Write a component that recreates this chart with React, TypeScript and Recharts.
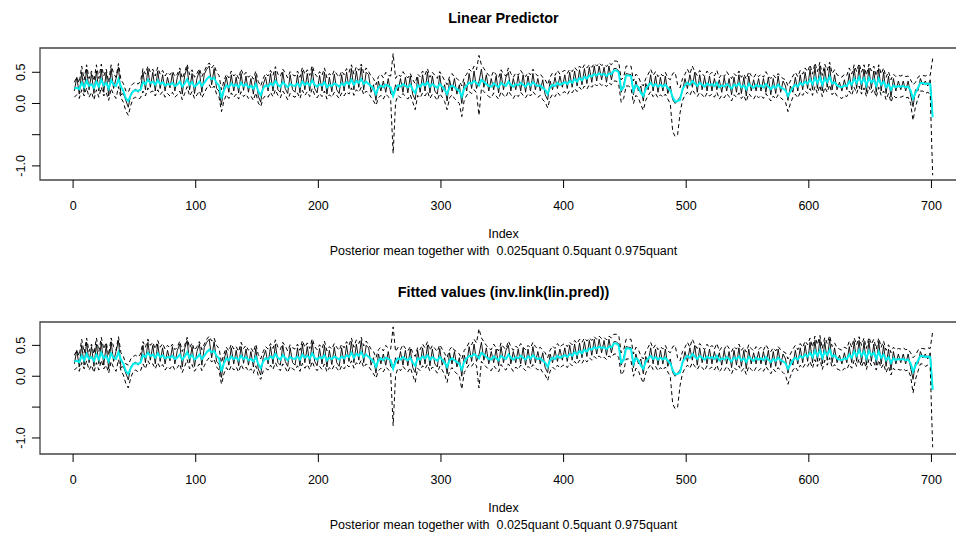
import { LineChart, Line, XAxis, YAxis, ReferenceArea } from 'recharts';

// posterior summaries, one value every 2nd index (1, 3, 5, ... 701)
const STEP = 2;

const meanLP = [
  0.20, 0.42, 0.15, 0.50, 0.18, 0.55, 0.22, 0.48, 0.16, 0.52,
  0.20, 0.55, 0.18, 0.50, 0.12, 0.56, 0.24, 0.40, 0.58, 0.14,
  0.16, 0.05, -0.06, 0.15, 0.20, 0.23, 0.18, 0.24, 0.50, 0.22,
  0.55, 0.26, 0.50, 0.20, 0.52, 0.24, 0.46, 0.20, 0.42, 0.25,
  0.48, 0.20, 0.42, 0.52, 0.15, 0.45, 0.58, 0.22, 0.48, 0.16,
  0.40, 0.52, 0.18, 0.47, 0.55, 0.60, 0.30, 0.56, 0.24, 0.20,
  -0.02, 0.26, 0.42, 0.18, 0.46, 0.20, 0.42, 0.17, 0.48, 0.21,
  0.44, 0.18, 0.40, 0.15, 0.45, 0.12, 0.02, 0.30, 0.42, 0.20,
  0.48, 0.20, 0.52, 0.22, 0.18, 0.50, 0.24, 0.16, 0.46, 0.22,
  0.18, 0.46, 0.17, 0.52, 0.22, 0.48, 0.20, 0.55, 0.24, 0.17,
  0.45, 0.20, 0.50, 0.15, 0.42, 0.19, 0.47, 0.22, 0.16, 0.46,
  0.20, 0.50, 0.24, 0.56, 0.22, 0.52, 0.26, 0.58, 0.22, 0.50,
  0.46, 0.18, 0.30, 0.05, 0.36, 0.20, 0.36, 0.18, 0.40, 0.16,
  0.12, 0.30, 0.20, 0.40, 0.18, 0.42, 0.17, 0.44, 0.14, 0.06,
  0.42, 0.18, 0.46, 0.20, 0.50, 0.17, 0.44, 0.20, 0.15, 0.45,
  0.18, 0.30, 0.04, 0.38, 0.20, 0.40, 0.15, 0.30, 0.00, 0.34,
  0.20, 0.48, 0.24, 0.52, 0.24, 0.35, 0.55, 0.26, 0.46, 0.20,
  0.40, 0.22, 0.44, 0.17, 0.48, 0.22, 0.42, 0.50, 0.20, 0.40,
  0.22, 0.44, 0.20, 0.46, 0.18, 0.44, 0.20, 0.48, 0.22, 0.40,
  0.20, 0.38, 0.14, 0.06, 0.36, 0.22, 0.42, 0.24, 0.44, 0.26,
  0.46, 0.24, 0.50, 0.26, 0.52, 0.28, 0.54, 0.30, 0.56, 0.32,
  0.58, 0.34, 0.60, 0.36, 0.60, 0.38, 0.58, 0.34, 0.60, 0.38,
  0.56, 0.56, 0.52, 0.18, 0.30, 0.48, 0.47, 0.46, 0.14, 0.36,
  0.20, 0.28, 0.04, 0.32, 0.22, 0.46, 0.20, 0.44, 0.18, 0.42,
  0.20, 0.44, 0.16, 0.28, 0.06, 0.00, 0.05, 0.10, 0.20, 0.40,
  0.24, 0.46, 0.26, 0.50, 0.18, 0.46, 0.22, 0.42, 0.20, 0.44,
  0.20, 0.40, 0.22, 0.38, 0.18, 0.42, 0.20, 0.40, 0.14, 0.42,
  0.18, 0.46, 0.16, 0.42, 0.12, 0.44, 0.20, 0.38, 0.20, 0.40,
  0.20, 0.40, 0.18, 0.42, 0.14, 0.40, 0.16, 0.44, 0.18, 0.36,
  0.28, 0.05, 0.28, 0.18, 0.42, 0.20, 0.46, 0.22, 0.50, 0.24,
  0.55, 0.22, 0.58, 0.24, 0.60, 0.20, 0.56, 0.26, 0.60, 0.22,
  0.46, 0.22, 0.34, 0.20, 0.38, 0.22, 0.48, 0.22, 0.56, 0.24,
  0.58, 0.22, 0.55, 0.18, 0.57, 0.24, 0.52, 0.18, 0.56, 0.20,
  0.50, 0.16, 0.44, 0.10, 0.40, 0.20, 0.36, 0.22, 0.36, 0.20,
  0.36, 0.14, -0.05, 0.22, 0.20, 0.40, 0.30, 0.36, 0.28, 0.38,
  -0.20,
];

const medianLP = [
  0.24, 0.25, 0.23, 0.33, 0.26, 0.36, 0.28, 0.31, 0.25, 0.35,
  0.27, 0.38, 0.29, 0.33, 0.24, 0.37, 0.30, 0.28, 0.39, 0.27,
  0.20, 0.08, 0.04, 0.13, 0.20, 0.21, 0.20, 0.22, 0.34, 0.31,
  0.38, 0.33, 0.35, 0.30, 0.37, 0.31, 0.34, 0.29, 0.31, 0.30,
  0.33, 0.28, 0.30, 0.35, 0.27, 0.32, 0.39, 0.30, 0.34, 0.27,
  0.30, 0.35, 0.28, 0.33, 0.39, 0.43, 0.39, 0.41, 0.33, 0.29,
  0.08, 0.21, 0.29, 0.26, 0.32, 0.28, 0.30, 0.26, 0.33, 0.28,
  0.31, 0.26, 0.28, 0.24, 0.31, 0.20, 0.13, 0.24, 0.29, 0.27,
  0.32, 0.29, 0.36, 0.30, 0.27, 0.34, 0.30, 0.26, 0.31, 0.29,
  0.28, 0.32, 0.27, 0.35, 0.30, 0.33, 0.29, 0.37, 0.30, 0.27,
  0.31, 0.29, 0.34, 0.26, 0.30, 0.28, 0.32, 0.30, 0.27, 0.32,
  0.29, 0.34, 0.31, 0.38, 0.30, 0.36, 0.33, 0.39, 0.31, 0.35,
  0.31, 0.28, 0.24, 0.15, 0.26, 0.29, 0.26, 0.30, 0.28, 0.26,
  0.12, 0.23, 0.29, 0.27, 0.31, 0.28, 0.26, 0.30, 0.22, 0.17,
  0.29, 0.27, 0.32, 0.29, 0.34, 0.27, 0.31, 0.28, 0.25, 0.31,
  0.27, 0.22, 0.15, 0.26, 0.29, 0.26, 0.23, 0.20, 0.11, 0.24,
  0.29, 0.33, 0.32, 0.36, 0.33, 0.29, 0.38, 0.35, 0.31, 0.28,
  0.27, 0.32, 0.29, 0.26, 0.33, 0.30, 0.28, 0.35, 0.30, 0.27,
  0.31, 0.29, 0.33, 0.30, 0.27, 0.32, 0.29, 0.34, 0.30, 0.28,
  0.29, 0.25, 0.22, 0.15, 0.26, 0.30, 0.28, 0.33, 0.30, 0.32,
  0.34, 0.31, 0.36, 0.33, 0.39, 0.35, 0.41, 0.37, 0.43, 0.40,
  0.45, 0.43, 0.47, 0.45, 0.48, 0.46, 0.47, 0.44, 0.48, 0.47,
  0.53, 0.53, 0.50, 0.22, 0.26, 0.45, 0.45, 0.44, 0.20, 0.29,
  0.26, 0.17, 0.12, 0.23, 0.29, 0.33, 0.28, 0.31, 0.27, 0.30,
  0.27, 0.30, 0.25, 0.21, 0.10, 0.03, 0.04, 0.06, 0.23, 0.29,
  0.33, 0.30, 0.36, 0.32, 0.28, 0.33, 0.30, 0.27, 0.32, 0.29,
  0.31, 0.28, 0.33, 0.26, 0.29, 0.27, 0.31, 0.28, 0.24, 0.30,
  0.28, 0.32, 0.26, 0.29, 0.23, 0.31, 0.28, 0.25, 0.30, 0.27,
  0.29, 0.26, 0.31, 0.27, 0.23, 0.28, 0.25, 0.30, 0.26, 0.24,
  0.21, 0.12, 0.19, 0.26, 0.30, 0.27, 0.33, 0.30, 0.35, 0.32,
  0.38, 0.31, 0.41, 0.33, 0.42, 0.30, 0.40, 0.34, 0.43, 0.32,
  0.34, 0.29, 0.27, 0.26, 0.29, 0.28, 0.35, 0.30, 0.40, 0.33,
  0.42, 0.33, 0.40, 0.29, 0.41, 0.34, 0.38, 0.28, 0.40, 0.30,
  0.35, 0.26, 0.31, 0.22, 0.29, 0.26, 0.28, 0.27, 0.28, 0.26,
  0.27, 0.21, 0.08, 0.17, 0.25, 0.33, 0.33, 0.31, 0.32, 0.31,
  -0.22,
];

const lowerLP = [
  0.10, 0.14, 0.08, 0.22, 0.12, 0.25, 0.10, 0.18, 0.06, 0.22,
  0.10, 0.26, 0.12, 0.18, 0.05, 0.24, 0.14, 0.08, 0.27, 0.09,
  0.02, -0.12, -0.19, -0.03, 0.08, 0.10, 0.07, 0.09, 0.20, 0.12,
  0.25, 0.18, 0.20, 0.12, 0.22, 0.14, 0.19, 0.10, 0.16, 0.12,
  0.18, 0.10, 0.14, 0.20, 0.06, 0.16, 0.27, 0.12, 0.19, 0.08,
  0.14, 0.20, 0.09, 0.17, 0.25, 0.30, 0.23, 0.28, 0.15, 0.10,
  -0.13, 0.04, 0.14, 0.08, 0.17, 0.10, 0.15, 0.07, 0.19, 0.11,
  0.15, 0.08, 0.12, 0.05, 0.17, 0.01, -0.05, 0.08, 0.13, 0.10,
  0.18, 0.11, 0.22, 0.13, 0.09, 0.20, 0.14, 0.06, 0.16, 0.12,
  0.10, 0.17, 0.08, 0.21, 0.13, 0.19, 0.11, 0.24, 0.14, 0.09,
  0.16, 0.11, 0.20, 0.07, 0.14, 0.10, 0.18, 0.13, 0.08, 0.17,
  0.12, 0.19, 0.15, 0.25, 0.13, 0.22, 0.18, 0.26, 0.14, 0.20,
  0.16, 0.10, 0.04, -0.03, 0.09, 0.13, 0.07, 0.15, 0.11, 0.05,
  -0.80, 0.02, 0.13, 0.09, 0.16, 0.11, 0.07, 0.14, 0.02, -0.10,
  0.13, 0.09, 0.17, 0.12, 0.19, 0.08, 0.15, 0.11, 0.05, 0.16,
  0.10, 0.03, -0.10, 0.09, 0.14, 0.08, 0.04, 0.00, -0.21, 0.06,
  0.13, 0.19, 0.16, 0.22, 0.17, -0.19, 0.24, 0.19, 0.15, 0.11,
  0.09, 0.17, 0.12, 0.07, 0.19, 0.13, 0.10, 0.20, 0.14, 0.08,
  0.15, 0.11, 0.18, 0.13, 0.09, 0.16, 0.12, 0.19, 0.14, 0.10,
  0.13, 0.06, 0.02, -0.07, 0.08, 0.15, 0.11, 0.18, 0.13, 0.17,
  0.19, 0.14, 0.21, 0.17, 0.24, 0.19, 0.26, 0.21, 0.28, 0.23,
  0.30, 0.26, 0.32, 0.28, 0.33, 0.29, 0.31, 0.27, 0.33, 0.30,
  0.36, 0.36, 0.30, 0.02, 0.08, 0.28, 0.28, 0.25, 0.00, 0.13,
  0.09, -0.02, -0.11, 0.05, 0.13, 0.19, 0.11, 0.16, 0.09, 0.14,
  0.10, 0.15, 0.07, 0.00, -0.45, -0.53, -0.50, -0.15, 0.05, 0.13,
  0.18, 0.13, 0.22, 0.16, 0.11, 0.18, 0.14, 0.09, 0.17, 0.12,
  0.15, 0.10, 0.18, 0.07, 0.13, 0.09, 0.16, 0.11, 0.04, 0.14,
  0.10, 0.17, 0.08, 0.13, 0.03, 0.16, 0.11, 0.07, 0.14, 0.09,
  0.13, 0.08, 0.16, 0.10, 0.04, 0.12, 0.07, 0.14, 0.09, 0.06,
  0.02, -0.13, 0.00, 0.10, 0.15, 0.09, 0.18, 0.13, 0.20, 0.16,
  0.24, 0.13, 0.27, 0.16, 0.29, 0.11, 0.26, 0.18, 0.30, 0.14,
  0.19, 0.12, 0.10, 0.08, 0.13, 0.11, 0.20, 0.13, 0.26, 0.16,
  0.28, 0.15, 0.25, 0.11, 0.27, 0.17, 0.23, 0.10, 0.26, 0.13,
  0.20, 0.06, 0.16, 0.02, 0.13, 0.09, 0.11, 0.10, 0.12, 0.09,
  0.10, 0.00, -0.27, -0.05, 0.08, 0.20, 0.20, 0.16, 0.18, 0.15,
  -1.15,
];

const upperLP = [
  0.34, 0.42, 0.33, 0.60, 0.38, 0.62, 0.40, 0.52, 0.36, 0.62,
  0.40, 0.63, 0.44, 0.55, 0.34, 0.62, 0.48, 0.42, 0.64, 0.38,
  0.32, 0.20, 0.18, 0.28, 0.32, 0.34, 0.31, 0.36, 0.56, 0.47,
  0.60, 0.50, 0.55, 0.44, 0.58, 0.47, 0.53, 0.44, 0.50, 0.46,
  0.52, 0.43, 0.47, 0.57, 0.40, 0.50, 0.63, 0.46, 0.54, 0.42,
  0.48, 0.56, 0.43, 0.52, 0.60, 0.65, 0.57, 0.62, 0.50, 0.45,
  0.22, 0.36, 0.47, 0.41, 0.52, 0.44, 0.48, 0.40, 0.55, 0.45,
  0.50, 0.42, 0.46, 0.39, 0.52, 0.35, 0.28, 0.40, 0.48, 0.44,
  0.53, 0.45, 0.59, 0.47, 0.43, 0.55, 0.49, 0.41, 0.51, 0.46,
  0.44, 0.52, 0.42, 0.58, 0.47, 0.54, 0.45, 0.61, 0.48, 0.43,
  0.51, 0.45, 0.57, 0.41, 0.48, 0.44, 0.53, 0.47, 0.42, 0.52,
  0.46, 0.56, 0.50, 0.62, 0.47, 0.59, 0.53, 0.63, 0.49, 0.57,
  0.51, 0.44, 0.40, 0.30, 0.43, 0.47, 0.41, 0.50, 0.45, 0.44,
  0.80, 0.40, 0.47, 0.43, 0.51, 0.45, 0.41, 0.48, 0.38, 0.32,
  0.47, 0.43, 0.52, 0.46, 0.56, 0.42, 0.50, 0.45, 0.40, 0.51,
  0.44, 0.37, 0.30, 0.43, 0.48, 0.42, 0.40, 0.36, 0.28, 0.42,
  0.47, 0.55, 0.51, 0.60, 0.54, 0.77, 0.62, 0.56, 0.50, 0.45,
  0.43, 0.52, 0.46, 0.41, 0.54, 0.47, 0.44, 0.57, 0.48, 0.42,
  0.49, 0.45, 0.53, 0.47, 0.43, 0.50, 0.46, 0.55, 0.48, 0.44,
  0.47, 0.42, 0.38, 0.30, 0.42, 0.49, 0.45, 0.53, 0.47, 0.51,
  0.53, 0.48, 0.55, 0.51, 0.58, 0.53, 0.60, 0.55, 0.62, 0.57,
  0.62, 0.58, 0.64, 0.60, 0.65, 0.61, 0.63, 0.59, 0.65, 0.62,
  0.68, 0.68, 0.66, 0.38, 0.42, 0.60, 0.60, 0.60, 0.36, 0.47,
  0.43, 0.33, 0.28, 0.40, 0.47, 0.55, 0.45, 0.51, 0.43, 0.48,
  0.44, 0.50, 0.41, 0.38, 0.48, 0.50, 0.30, 0.25, 0.40, 0.47,
  0.55, 0.47, 0.60, 0.51, 0.45, 0.53, 0.48, 0.43, 0.52, 0.46,
  0.50, 0.44, 0.53, 0.41, 0.47, 0.43, 0.51, 0.45, 0.40, 0.48,
  0.44, 0.52, 0.42, 0.47, 0.39, 0.51, 0.45, 0.41, 0.48, 0.43,
  0.47, 0.42, 0.51, 0.44, 0.40, 0.46, 0.41, 0.48, 0.43, 0.40,
  0.38, 0.28, 0.36, 0.44, 0.50, 0.43, 0.53, 0.47, 0.57, 0.51,
  0.62, 0.47, 0.65, 0.51, 0.66, 0.45, 0.63, 0.53, 0.66, 0.48,
  0.54, 0.46, 0.44, 0.42, 0.47, 0.45, 0.57, 0.47, 0.62, 0.51,
  0.64, 0.50, 0.62, 0.45, 0.63, 0.52, 0.60, 0.44, 0.62, 0.47,
  0.57, 0.42, 0.51, 0.38, 0.47, 0.43, 0.45, 0.44, 0.46, 0.43,
  0.44, 0.38, 0.30, 0.34, 0.42, 0.45, 0.45, 0.44, 0.46, 0.45,
  0.72,
];

// fitted values look the same as the linear predictor in the plot
const meanFit = meanLP;
const medianFit = medianLP;
const lowerFit = lowerLP;
const upperFit = upperLP;

const xTicks = [0, 100, 200, 300, 400, 500, 600, 700];
const yTicks = [-1, -0.5, 0, 0.5];

const FONT = '"Liberation Sans", Arial, sans-serif';

function toRows(mean: number[], med: number[], lo: number[], hi: number[]) {
  return mean.map((m, i) => ({ idx: 1 + i * STEP, mean: m, med: med[i], lo: lo[i], hi: hi[i] }));
}

function YTick(props: any) {
  const { y, payload } = props;
  if (payload.value === -0.5) return null; // R drops this label
  return (
    <text x={25} y={y} transform={`rotate(-90 25 ${y})`} textAnchor="middle" fontSize={12.5} fill="#000">
      {payload.value.toFixed(1)}
    </text>
  );
}

function Panel({ rows, yDomain }: { rows: any[]; yDomain: [number, number] }) {
  return (
    <LineChart width={980} height={215} data={rows} margin={{ top: 48, right: 13, bottom: 5, left: 0 }}>
      <XAxis
        type="number"
        dataKey="idx"
        domain={[-27, 729]}
        ticks={xTicks}
        interval={0}
        allowDataOverflow
        axisLine={false}
        tickSize={8}
        tickMargin={13}
        height={30}
        tickLine={{ stroke: '#000' }}
        tick={{ fontSize: 12.5, fill: '#000' }}
      />
      <YAxis
        type="number"
        domain={yDomain}
        ticks={yTicks}
        interval={0}
        allowDataOverflow
        axisLine={false}
        width={40}
        tickSize={8}
        tickLine={{ stroke: '#000' }}
        tick={<YTick />}
      />
      <ReferenceArea
        x1={-27}
        x2={729}
        y1={yDomain[0]}
        y2={yDomain[1]}
        fill="none"
        stroke="#444"
        strokeWidth={1.3}
        ifOverflow="visible"
      />
      <Line type="linear" dataKey="mean" stroke="#000" strokeWidth={0.9} dot={false} isAnimationActive={false} />
      <Line type="linear" dataKey="med" stroke="#00f0f0" strokeWidth={2} dot={false} isAnimationActive={false} />
      <Line type="linear" dataKey="lo" stroke="#000" strokeWidth={1} strokeDasharray="4 3" dot={false} isAnimationActive={false} />
      <Line type="linear" dataKey="hi" stroke="#000" strokeWidth={1} strokeDasharray="4 3" dot={false} isAnimationActive={false} />
    </LineChart>
  );
}

export default function App() {
  const lp = toRows(meanLP, medianLP, lowerLP, upperLP);
  const fit = toRows(meanFit, medianFit, lowerFit, upperFit);
  const cx = 503.5;
  const sub = 'Posterior mean together with\u00a0\u00a00.025quant 0.5quant 0.975quant';
  return (
    <div
      style={{
        position: 'absolute',
        left: 0,
        top: 0,
        width: 956,
        height: 533,
        overflow: 'hidden',
        background: '#fff',
        fontFamily: FONT,
      }}
    >
      <div style={{ position: 'absolute', left: 0, top: 0 }}>
        <Panel rows={lp} yDomain={[-1.226, 0.889]} />
      </div>
      <div style={{ position: 'absolute', left: 0, top: 274.3 }}>
        <Panel rows={fit} yDomain={[-1.26, 0.879]} />
      </div>
      <svg width={956} height={533} style={{ position: 'absolute', left: 0, top: 0, pointerEvents: 'none' }}>
        <g fontFamily={FONT} textAnchor="middle" fill="#000">
          <text x={cx} y={23} fontSize={14.4} fontWeight="bold">Linear Predictor</text>
          <text x={cx} y={238} fontSize={12.5}>Index</text>
          <text x={cx} y={254.5} fontSize={12.5}>{sub}</text>
          <text x={cx} y={297.3} fontSize={14.4} fontWeight="bold">Fitted values (inv.link(lin.pred))</text>
          <text x={cx} y={512.3} fontSize={12.5}>Index</text>
          <text x={cx} y={528.8} fontSize={12.5}>{sub}</text>
        </g>
      </svg>
    </div>
  );
}
